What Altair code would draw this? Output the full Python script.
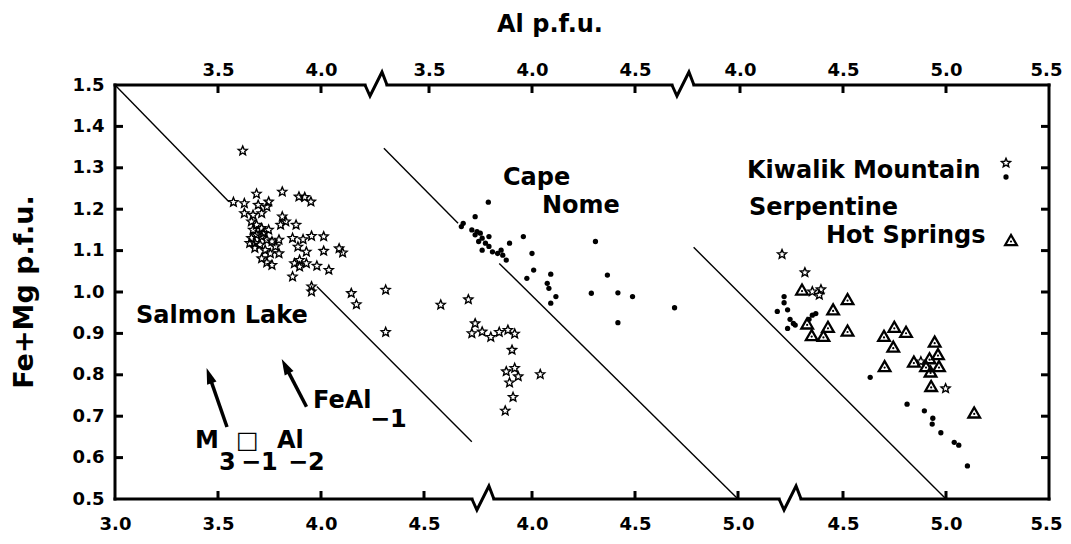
import altair as alt
import pandas as pd

# ---------------- data: Al p.f.u. (read on each panel's own scale) and Fe+Mg p.f.u. ----------------
# Salmon Lake (left panel), stars
sl_star_al = [3.620, 3.575, 3.628, 3.687, 3.695, 3.746, 3.812, 3.893, 3.921, 3.951,
              3.628, 3.670, 3.712, 3.737, 3.662, 3.687, 3.670, 3.712, 3.746, 3.687,
              3.662, 3.712, 3.737, 3.679, 3.704, 3.762, 3.796, 3.779, 3.729, 3.679,
              3.754, 3.796, 3.712, 3.737, 3.762, 3.812, 3.829, 3.804, 3.654, 3.720,
              3.879, 3.862, 3.913, 3.954, 4.013, 3.888, 3.929, 4.013, 4.088, 4.105,
              3.871, 3.896, 3.929, 3.980, 4.038, 3.862, 3.896, 3.954, 3.954, 4.147,
              4.172, 4.314, 4.314]
sl_star_fm = [1.341, 1.217, 1.214, 1.237, 1.210, 1.218, 1.242, 1.230, 1.229, 1.218,
              1.190, 1.186, 1.190, 1.206, 1.170, 1.162, 1.150, 1.154, 1.150, 1.138,
              1.130, 1.134, 1.126, 1.118, 1.114, 1.122, 1.126, 1.110, 1.101, 1.106,
              1.093, 1.093, 1.081, 1.071, 1.065, 1.182, 1.170, 1.162, 1.118, 1.142,
              1.162, 1.130, 1.127, 1.135, 1.134, 1.109, 1.097, 1.099, 1.105, 1.095,
              1.069, 1.061, 1.069, 1.063, 1.053, 1.037, 1.077, 1.013, 1.001, 0.997,
              0.970, 1.005, 0.903]

# Cape Nome (middle panel), stars and dots
cn_star_al = [3.557, 3.691, 3.724, 3.708, 3.758, 3.800, 3.841, 3.883, 3.916, 3.903,
              3.916, 3.875, 3.933, 3.891, 3.908, 3.870, 4.040]
cn_star_fm = [0.969, 0.982, 0.924, 0.900, 0.904, 0.891, 0.903, 0.908, 0.899, 0.860,
              0.816, 0.808, 0.796, 0.781, 0.746, 0.713, 0.801]
cn_dot_al = [3.788, 3.724, 3.657, 3.666, 3.708, 3.733, 3.749, 3.724, 3.758, 3.741,
             3.774, 3.791, 3.758, 3.808, 3.833, 3.858, 3.875, 3.850, 3.791, 3.891,
             3.958, 4.000, 4.008, 3.975, 4.308, 4.091, 4.074, 4.082, 4.116, 4.091,
             4.288, 4.366, 4.417, 4.488, 4.692, 4.417]
cn_dot_fm = [1.217, 1.182, 1.158, 1.166, 1.150, 1.146, 1.142, 1.138, 1.130, 1.122,
             1.118, 1.110, 1.101, 1.097, 1.093, 1.089, 1.077, 1.101, 1.134, 1.118,
             1.134, 1.093, 1.053, 1.033, 1.122, 1.043, 1.021, 1.009, 0.989, 0.973,
             0.997, 1.041, 0.998, 0.989, 0.962, 0.926]

# Kiwalik Mountain (right panel), stars and dots
km_star_al = [4.204, 4.315, 4.393, 4.385, 4.351, 4.878, 4.998]
km_star_fm = [1.091, 1.047, 1.006, 0.993, 1.001, 0.832, 0.767]
km_dot_al = [4.214, 4.214, 4.181, 4.231, 4.243, 4.259, 4.231, 4.268, 4.351, 4.368,
             4.335, 4.632, 4.811, 4.895, 4.936, 4.933, 4.975, 5.040, 5.062, 5.104]
km_dot_fm = [0.989, 0.974, 0.953, 0.957, 0.934, 0.924, 0.912, 0.920, 0.944, 0.948,
             0.934, 0.794, 0.729, 0.713, 0.695, 0.681, 0.660, 0.637, 0.630, 0.580]

# Serpentine Hot Springs (right panel), triangles
sh_tri_al = [4.301, 4.522, 4.452, 4.326, 4.427, 4.348, 4.405, 4.522, 4.699, 4.749,
             4.806, 4.744, 4.702, 4.945, 4.961, 4.844, 4.920, 4.903, 4.966, 4.925,
             4.928, 5.137]
sh_tri_fm = [1.006, 0.983, 0.958, 0.924, 0.916, 0.896, 0.894, 0.907, 0.894, 0.916,
             0.904, 0.868, 0.821, 0.880, 0.850, 0.832, 0.840, 0.821, 0.821, 0.808,
             0.773, 0.709]

# reference lines (panel, start Al, start Fe+Mg, end Al, end Fe+Mg)
ln_panel = [1, 1, 2, 2, 3]
ln_al0 = [3.000, 3.980, 3.281, 3.841, 3.775]
ln_fm0 = [1.500, 1.013, 1.347, 1.069, 1.108]
ln_al1 = [3.553, 4.732, 3.641, 5.000, 5.000]
ln_fm1 = [1.218, 0.638, 1.166, 0.500, 0.500]

# axis tick labels (panel, Al value)
bottom_tick_panel = [1, 1, 1, 1, 2, 2, 2, 3, 3, 3]
bottom_tick_al = [3.0, 3.5, 4.0, 4.5, 4.0, 4.5, 5.0, 4.5, 5.0, 5.5]
top_tick_panel = [1, 1, 2, 2, 2, 3, 3, 3, 3]
top_tick_al = [3.5, 4.0, 3.5, 4.0, 4.5, 4.0, 4.5, 5.0, 5.5]
y_ticks = [0.5, 0.6, 0.7, 0.8, 0.9, 1.0, 1.1, 1.2, 1.3, 1.4, 1.5]

# ---------------- layout ----------------
W, H = 934, 414
OFF = {1: 0.0, 2: 1.0243, 3: 2.034}          # shift of each panel on the common drawing axis
U0, U1 = 3.0, 5.5 + OFF[3]
PXU = W / (U1 - U0)                            # px per Al unit
PXY = H / 1.0                                  # px per Fe+Mg unit
BOT_BREAKS = [4.786, 6.277]
TOP_BREAKS = [4.267, 5.757]
FONT = "DejaVu Sans"
LBL = 24

xs = alt.Scale(domain=[U0, U1], nice=False, zero=False)
ys = alt.Scale(domain=[0.5, 1.5], nice=False, zero=False)


def X(f="u", axis=None):
    return alt.X(f"{f}:Q", scale=xs, axis=axis)


def Y(f="fm", axis=None):
    return alt.Y(f"{f}:Q", scale=ys, axis=axis)


def pts(al, fm, panel):
    return pd.DataFrame({"al": al, "fm": fm, "u": [a + OFF[panel] for a in al]})


stars = pd.concat([pts(sl_star_al, sl_star_fm, 1), pts(cn_star_al, cn_star_fm, 2),
                   pts(km_star_al, km_star_fm, 3)])
dots = pd.concat([pts(cn_dot_al, cn_dot_fm, 2), pts(km_dot_al, km_dot_fm, 3)])
tris = pts(sh_tri_al, sh_tri_fm, 3)

rows = []
for i, p in enumerate(ln_panel):
    rows.append({"seg": i, "o": 0, "u": ln_al0[i] + OFF[p], "fm": ln_fm0[i]})
    rows.append({"seg": i, "o": 1, "u": ln_al1[i] + OFF[p], "fm": ln_fm1[i]})
lines = pd.DataFrame(rows)

STAR = ("M0,-1L0.2645,-0.364L0.951,-0.309L0.428,0.139L0.588,0.809L0,0.45"
        "L-0.588,0.809L-0.428,0.139L-0.951,-0.309L-0.2645,-0.364Z")
HEAD = "M0,-1L0.62,1L-0.62,1Z"
STAR_STYLE = dict(shape=STAR, filled=False, stroke="black", strokeWidth=1.4, size=90, opacity=1)
DOT_STYLE = dict(shape="circle", filled=True, color="black", size=28, opacity=1)
TRI_STYLE = dict(shape="triangle-up", filled=False, stroke="black", strokeWidth=2.3, size=135, opacity=1)
CDOT_STYLE = dict(shape="circle", filled=True, color="black", size=5, opacity=1)

one = pd.DataFrame({"k": [0]})
layers = []

# data marks
layers.append(alt.Chart(lines).mark_line(color="black", strokeWidth=1.4).encode(
    x=X(), y=Y(), detail="seg:N", order="o:Q"))
layers.append(alt.Chart(stars).mark_point(**STAR_STYLE).encode(x=X(), y=Y()))
layers.append(alt.Chart(dots).mark_point(**DOT_STYLE).encode(x=X(), y=Y()))
layers.append(alt.Chart(tris).mark_point(**TRI_STYLE).encode(x=X(), y=Y()))
layers.append(alt.Chart(tris).mark_point(yOffset=1.5, **CDOT_STYLE).encode(x=X(), y=Y()))

# frame with breaks
g = 11 / PXU
segs = []
for y0, br in ((1.5, TOP_BREAKS), (0.5, BOT_BREAKS)):
    edges = [U0] + [e for b in br for e in (b - g, b + g)] + [U1]
    for a, b in zip(edges[0::2], edges[1::2]):
        segs.append({"x0": a, "x1": b, "y": y0})
frame = pd.DataFrame(segs)
layers.append(alt.Chart(frame).mark_rule(color="black", strokeWidth=3, strokeCap="square").encode(
    x=X("x0"), x2="x1:Q", y=Y("y")))
layers.append(alt.Chart(one).mark_rule(color="black", strokeWidth=3, strokeCap="square").encode(
    x=alt.value(0), y=alt.value(0), y2=alt.value(H)))
layers.append(alt.Chart(one).mark_rule(color="black", strokeWidth=3, strokeCap="square").encode(
    x=alt.value(W), y=alt.value(0), y2=alt.value(H)))

zz_dx = [-11, -6, 6, 11]
zz_dy = [0, -11, 13, 0]
zrows = []
k = 0
for y0, br in ((1.5, TOP_BREAKS), (0.5, BOT_BREAKS)):
    for b in br:
        for j in range(4):
            zrows.append({"id": k, "o": j, "u": b + zz_dx[j] / PXU, "fm": y0 + zz_dy[j] / PXY})
        k += 1
zz = pd.DataFrame(zrows)
layers.append(alt.Chart(zz).mark_line(color="black", strokeWidth=3, strokeJoin="miter").encode(
    x=X(), y=Y(), detail="id:N", order="o:Q"))

# ticks and axes
lab = dict(domain=False, ticks=False, tickSize=0, grid=False, labelFlush=False, labelOverlap=False,
           labelFont=FONT, labelFontWeight="bold", labelColor="black", title=None)
bu = [a + OFF[p] for p, a in zip(bottom_tick_panel, bottom_tick_al)]
tu = [a + OFF[p] for p, a in zip(top_tick_panel, top_tick_al)]


def lexpr(b1, b2):
    return (f"format(datum.value < {b1} ? datum.value : (datum.value < {b2} ? "
            f"datum.value - {OFF[2]} : datum.value - {OFF[3]}), '.1f')")


edge_shift = {"condition": {"test": f"datum.value > {U1 - 0.01}", "value": -3}, "value": 0}
bottom_axis = alt.Axis(orient="bottom", values=bu, labelExpr=lexpr(*BOT_BREAKS),
                       labelPadding=16, labelFontSize=18, labelOffset=edge_shift, **lab)
top_axis = alt.Axis(orient="top", values=tu, labelExpr=lexpr(*TOP_BREAKS),
                    labelPadding=6, labelFontSize=18, labelOffset=edge_shift, **lab)
left_axis = alt.Axis(orient="left", values=y_ticks, format=".1f",
                     labelPadding=11, labelFontSize=18, **lab)

bt = pd.DataFrame({"u": [u for u in bu if U0 < u < U1 - 1e-6]})
tt = pd.DataFrame({"u": [u for u in tu if U0 < u < U1 - 1e-6]})
yt = pd.DataFrame({"fm": [v for v in y_ticks if 0.5 < v < 1.5]})
TL = 8
layers.append(alt.Chart(bt).mark_rule(color="black", strokeWidth=3).encode(
    x=X("u", bottom_axis), y=alt.value(H - TL), y2=alt.value(H)))
layers.append(alt.Chart(tt).mark_rule(color="black", strokeWidth=3).encode(
    x=X("u", top_axis), y=alt.value(0), y2=alt.value(TL)))
layers.append(alt.Chart(yt).mark_rule(color="black", strokeWidth=3).encode(
    y=Y("fm", left_axis), x=alt.value(0), x2=alt.value(TL)))
layers.append(alt.Chart(yt).mark_rule(color="black", strokeWidth=3).encode(
    y=Y("fm"), x=alt.value(W - TL), x2=alt.value(W)))


# text annotations
def txt(s, x, y, size=LBL, align="left", baseline="alphabetic", angle=0):
    kw = dict(font=FONT, fontWeight="bold", fontSize=size, color="black",
              align=align, baseline=baseline)
    if angle:
        kw["angle"] = angle
    return alt.Chart(pd.DataFrame({"t": [s]})).mark_text(**kw).encode(
        text="t:N", x=alt.value(x), y=alt.value(y))


layers += [
    txt("Al p.f.u.", 435, -60, size=24, align="center", baseline="middle"),
    txt("Fe+Mg p.f.u.", -90, 207, size=27, align="center", baseline="middle", angle=270),
    txt("Salmon Lake", 21, 238),
    txt("Cape", 388, 100),
    txt("Nome", 427, 128),
    txt("Kiwalik Mountain", 632, 93),
    txt("Serpentine", 634, 130),
    txt("Hot Springs", 711, 158),
    txt("FeAl", 198, 323),
    txt("\u22121", 255, 342),
    txt("M", 80, 363),
    txt("3", 104, 385),
    txt("\u25a1", 121, 363),
    txt("\u22121", 126, 385),
    txt("Al", 162, 363),
    txt("\u22122", 173, 385),
]

# legend symbols
layers.append(alt.Chart(one).mark_point(**STAR_STYLE).encode(x=alt.value(891), y=alt.value(78)))
layers.append(alt.Chart(one).mark_point(**DOT_STYLE).encode(x=alt.value(891), y=alt.value(92)))
layers.append(alt.Chart(one).mark_point(**TRI_STYLE).encode(x=alt.value(896), y=alt.value(155)))
layers.append(alt.Chart(one).mark_point(**CDOT_STYLE).encode(x=alt.value(896), y=alt.value(156.5)))

# arrows
for (x1, y1, x2, y2, ang) in ((112, 342, 94.2, 290.6, 341), (191.5, 321.7, 170.4, 281.1, 332.5)):
    layers.append(alt.Chart(one).mark_rule(color="black", strokeWidth=3.5).encode(
        x=alt.value(x1), y=alt.value(y1), x2=alt.value(x2), y2=alt.value(y2)))
    layers.append(alt.Chart(one).mark_point(shape=HEAD, filled=True, color="black", size=256,
                                            angle=ang, opacity=1).encode(
        x=alt.value(x2), y=alt.value(y2)))

chart = alt.layer(*layers).resolve_axis(x="independent", y="independent").properties(
    width=W, height=H, padding={"left": 107, "top": 77, "right": 14, "bottom": 37},
    autosize=alt.AutoSizeParams(type="none"), background="white",
).configure_view(stroke=None)

chart.save("out.html", embed_options={"renderer": "svg", "actions": False})
